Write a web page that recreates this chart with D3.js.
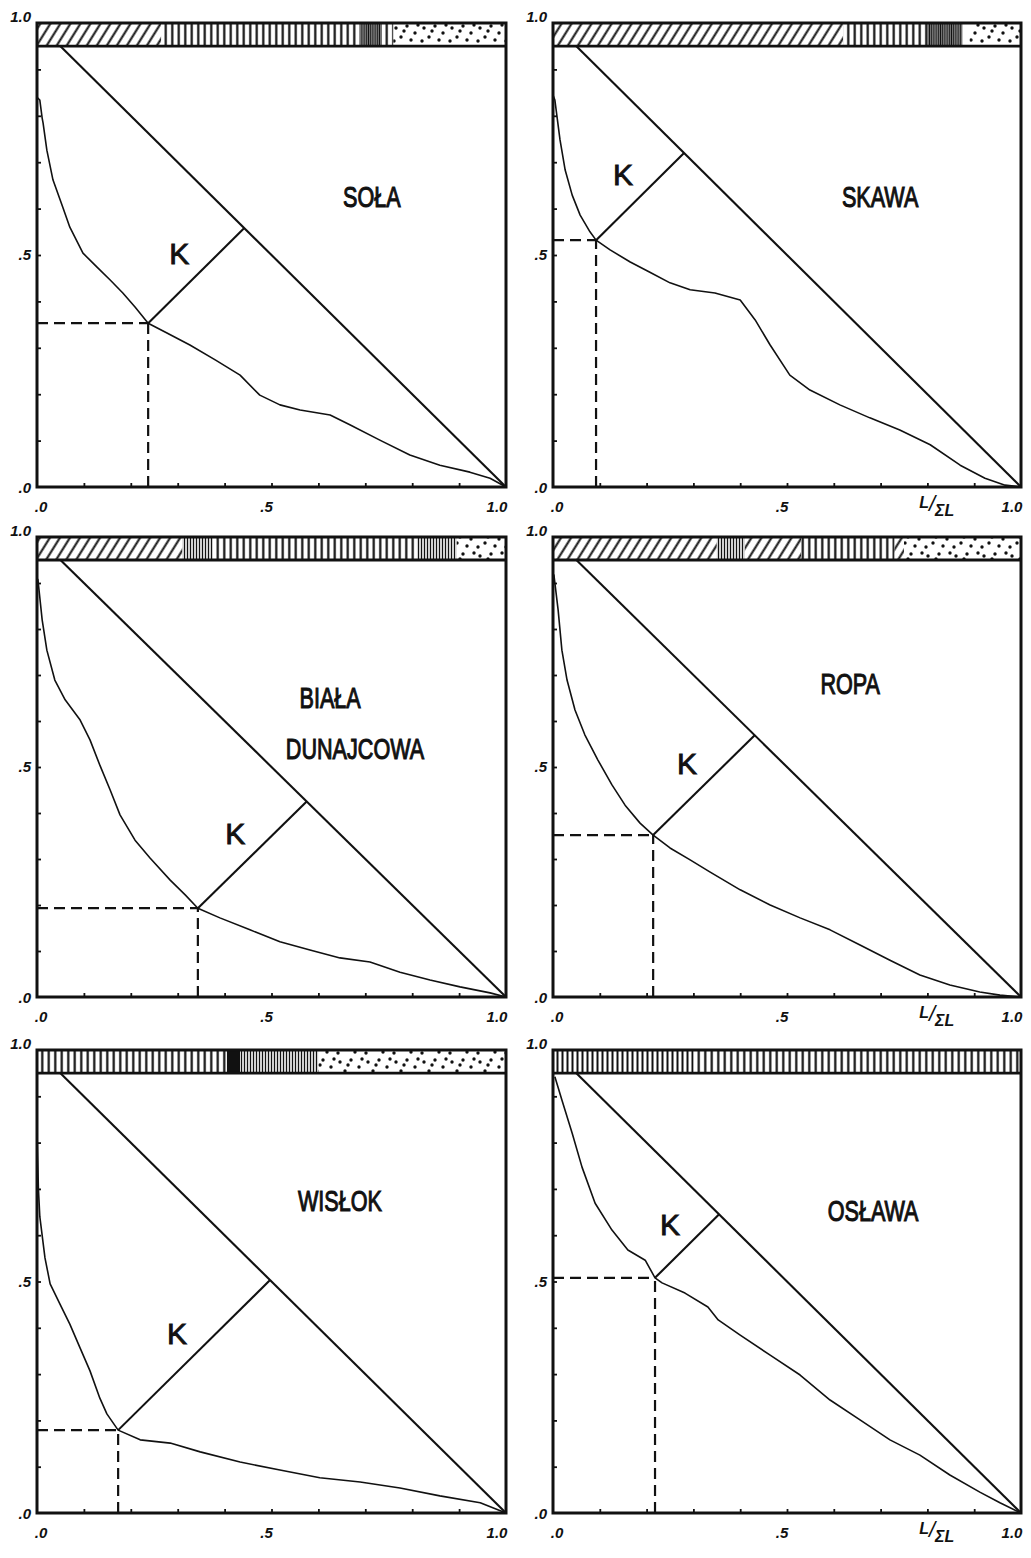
<!DOCTYPE html>
<html>
<head>
<meta charset="utf-8">
<script src="https://cdn.jsdelivr.net/npm/d3@7"></script>
<style>
  body { margin: 0; background: #fff; }
  svg { display: block; }
</style>
</head>
<body>
<svg id="chart" width="1031" height="1558"></svg>
<script>
// ---- Rivers and their cumulative curves (x = L/ΣL, y = share) ----
const rivers = ["SOŁA", "SKAWA", "BIAŁA DUNAJCOWA", "ROPA", "WISŁOK", "OSŁAWA"];
const titleLines = [["SOŁA"], ["SKAWA"], ["BIAŁA", "DUNAJCOWA"], ["ROPA"], ["WISŁOK"], ["OSŁAWA"]];

const curveSola = [[0, 0.84], [0.006, 0.834], [0.011, 0.795], [0.013, 0.784], [0.021, 0.726], [0.034, 0.662],
  [0.055, 0.603], [0.07, 0.56], [0.098, 0.504], [0.128, 0.474], [0.156, 0.446], [0.183, 0.418], [0.209, 0.388],
  [0.237, 0.353], [0.273, 0.334], [0.326, 0.306], [0.38, 0.274], [0.433, 0.241], [0.475, 0.198], [0.518, 0.177],
  [0.561, 0.166], [0.625, 0.155], [0.667, 0.134], [0.731, 0.101], [0.795, 0.069], [0.859, 0.047], [0.923, 0.032],
  [0.966, 0.019], [1, 0]];
const curveSkawa = [[0, 0.845], [0.004, 0.834], [0.015, 0.748], [0.026, 0.683], [0.041, 0.629], [0.058, 0.586],
  [0.079, 0.55], [0.092, 0.532], [0.122, 0.511], [0.165, 0.485], [0.207, 0.463], [0.25, 0.44], [0.293, 0.425],
  [0.346, 0.418], [0.4, 0.403], [0.432, 0.36], [0.464, 0.306], [0.506, 0.241], [0.549, 0.209], [0.613, 0.177],
  [0.677, 0.149], [0.741, 0.123], [0.806, 0.091], [0.87, 0.047], [0.923, 0.019], [0.966, 0.004], [1, 0]];
const curveBiala = [[0, 0.91], [0.002, 0.907], [0.011, 0.82], [0.021, 0.754], [0.038, 0.689], [0.06, 0.646],
  [0.092, 0.602], [0.113, 0.559], [0.134, 0.504], [0.156, 0.45], [0.177, 0.396], [0.209, 0.341], [0.241, 0.302],
  [0.284, 0.254], [0.316, 0.222], [0.343, 0.193], [0.39, 0.172], [0.454, 0.146], [0.518, 0.12], [0.582, 0.102],
  [0.646, 0.085], [0.71, 0.076], [0.774, 0.054], [0.838, 0.037], [0.902, 0.022], [0.966, 0.009], [1, 0]];
const curveRopa = [[0, 0.92], [0.002, 0.917], [0.011, 0.841], [0.019, 0.754], [0.03, 0.689], [0.047, 0.624],
  [0.068, 0.57], [0.096, 0.515], [0.126, 0.461], [0.154, 0.417], [0.186, 0.378], [0.214, 0.352], [0.25, 0.324],
  [0.293, 0.298], [0.335, 0.272], [0.4, 0.233], [0.464, 0.2], [0.528, 0.172], [0.592, 0.146], [0.656, 0.113],
  [0.72, 0.08], [0.784, 0.048], [0.848, 0.026], [0.912, 0.011], [0.955, 0.004], [1, 0]];
const curveWislok = [[0, 0.82], [0.003, 0.7], [0.006, 0.64], [0.017, 0.551], [0.028, 0.495], [0.049, 0.451],
  [0.07, 0.408], [0.092, 0.356], [0.113, 0.307], [0.134, 0.248], [0.149, 0.214], [0.173, 0.179], [0.22, 0.158],
  [0.284, 0.151], [0.348, 0.132], [0.433, 0.11], [0.518, 0.093], [0.603, 0.076], [0.689, 0.067], [0.774, 0.054],
  [0.859, 0.037], [0.945, 0.022], [1, 0]];
const curveOslawa = [[0.004, 0.942], [0.019, 0.892], [0.041, 0.82], [0.062, 0.747], [0.09, 0.669], [0.126, 0.611],
  [0.16, 0.568], [0.197, 0.546], [0.218, 0.508], [0.233, 0.497], [0.282, 0.475], [0.331, 0.445], [0.353, 0.417],
  [0.4, 0.384], [0.464, 0.341], [0.528, 0.298], [0.592, 0.244], [0.656, 0.201], [0.72, 0.158], [0.784, 0.125],
  [0.848, 0.082], [0.912, 0.045], [0.955, 0.022], [1, 0]];
const curves = [curveSola, curveSkawa, curveBiala, curveRopa, curveWislok, curveOslawa];

// Point K on each curve (furthest from the diagonal)
const kPoints = [[0.237, 0.353], [0.092, 0.532], [0.343, 0.193], [0.214, 0.352], [0.173, 0.179], [0.218, 0.508]];

// Composition bands along the channel: [pattern, from, to]
const bandSola = [["hatch", 0, 0.265], ["vert", 0.265, 0.69], ["dark", 0.69, 0.735], ["vert", 0.735, 0.76], ["dots", 0.76, 1]];
const bandSkawa = [["hatch", 0, 0.62], ["vert", 0.62, 0.8], ["dark", 0.8, 0.875], ["none", 0.875, 0.89], ["dots", 0.89, 1]];
const bandBiala = [["hatch", 0, 0.31], ["fine", 0.31, 0.375], ["vert", 0.375, 0.81], ["fine", 0.81, 0.895], ["dots", 0.895, 1]];
const bandRopa = [["hatch", 0, 0.35], ["fine", 0.35, 0.41], ["hatch", 0.41, 0.53], ["vert", 0.53, 0.73], ["hatch", 0.73, 0.75], ["dots", 0.75, 1]];
const bandWislok = [["vert", 0, 0.405], ["solid", 0.405, 0.433], ["fine", 0.433, 0.6], ["dots", 0.6, 1]];
const bandOslawa = [["vertTight", 0, 0.3], ["vert", 0.3, 1]];
const bands = [bandSola, bandSkawa, bandBiala, bandRopa, bandWislok, bandOslawa];

const axisTicks = [0, 0.5, 1];
const axisTickLabels = [".0", ".5", "1.0"];
const minorTicks = [0.1, 0.2, 0.3, 0.4, 0.5, 0.6, 0.7, 0.8, 0.9];
const showRatioLabel = [false, true, false, true, false, true];

// ---- Layout of the six panels ----
const panels = [
  { left: 37, right: 506, top: 23, bottom: 487 },
  { left: 553, right: 1021, top: 23, bottom: 487 },
  { left: 37, right: 506, top: 537, bottom: 997 },
  { left: 553, right: 1021, top: 537, bottom: 997 },
  { left: 37, right: 506, top: 1050, bottom: 1513 },
  { left: 553, right: 1021, top: 1050, bottom: 1513 }
];
const titleAt = [[0.714, 0.627], [0.699, 0.627], [0.625, 0.652], [0.635, 0.683], [0.646, 0.676], [0.684, 0.654]];
const titleLineGap = 0.111;

const ink = "#111";
const svg = d3.select("#chart");
const defs = svg.append("defs");

// Fill patterns for the band
function stripePattern(id, w, sw, rotate) {
  const p = defs.append("pattern").attr("id", id).attr("patternUnits", "userSpaceOnUse")
    .attr("width", w).attr("height", 60);
  if (rotate) p.attr("patternTransform", `rotate(${rotate})`);
  p.append("rect").attr("width", w).attr("height", 60).attr("fill", "#fff");
  p.append("line").attr("x1", w / 2).attr("x2", w / 2).attr("y1", 0).attr("y2", 60)
    .attr("stroke", ink).attr("stroke-width", sw);
}
stripePattern("hatch", 8.5, 2.0, 32);
stripePattern("vert", 6.5, 2.2, 0);
stripePattern("vertTight", 5, 2.0, 0);
stripePattern("fine", 3, 1.4, 0);
stripePattern("dark", 2.2, 1.6, 0);
const dp = defs.append("pattern").attr("id", "dots").attr("patternUnits", "userSpaceOnUse")
  .attr("width", 28).attr("height", 22);
dp.append("rect").attr("width", 28).attr("height", 22).attr("fill", "#fff");
[[4, 6], [15, 4], [23, 11], [9, 15], [19, 18], [2, 19], [12, 9], [26, 3]].forEach(([cx, cy]) =>
  dp.append("circle").attr("cx", cx).attr("cy", cy).attr("r", 1.7).attr("fill", ink));

const fillFor = { hatch: "url(#hatch)", vert: "url(#vert)", vertTight: "url(#vertTight)", fine: "url(#fine)",
  dark: "url(#dark)", dots: "url(#dots)", solid: ink, none: "#fff" };

const labelFont = "'Liberation Sans', 'DejaVu Sans', sans-serif";

panels.forEach((p, i) => {
  const x = d3.scaleLinear().domain([0, 1]).range([p.left, p.right]);
  const y = d3.scaleLinear().domain([0, 1]).range([p.bottom, p.top]);
  const g = svg.append("g").attr("class", "panel");

  // band on top (0.95 .. 1.0)
  g.selectAll("rect.band").data(bands[i]).join("rect").attr("class", "band")
    .attr("x", d => x(d[1])).attr("width", d => x(d[2]) - x(d[1]))
    .attr("y", y(1)).attr("height", y(0.95) - y(1))
    .attr("fill", d => fillFor[d[0]]);

  // minor ticks on both axes, pointing inwards
  g.append("g").attr("transform", `translate(0,${p.bottom})`)
    .call(d3.axisBottom(x).tickValues(minorTicks).tickSize(-4).tickFormat(""))
    .call(a => a.select(".domain").remove())
    .call(a => a.selectAll("line").attr("stroke", ink).attr("stroke-width", 1.8));
  g.append("g").attr("transform", `translate(${p.left},0)`)
    .call(d3.axisLeft(y).tickValues(minorTicks.filter(v => v < 0.95)).tickSize(-4).tickFormat(""))
    .call(a => a.select(".domain").remove())
    .call(a => a.selectAll("line").attr("stroke", ink).attr("stroke-width", 1.8));

  // frame and band outline
  g.append("rect").attr("x", p.left).attr("y", p.top).attr("width", p.right - p.left)
    .attr("height", p.bottom - p.top).attr("fill", "none").attr("stroke", ink).attr("stroke-width", 3);
  g.append("line").attr("x1", p.left).attr("x2", p.right).attr("y1", y(0.95)).attr("y2", y(0.95))
    .attr("stroke", ink).attr("stroke-width", 2.8);

  // diagonal of uniform distribution
  g.append("line").attr("x1", x(0.05)).attr("y1", y(0.95)).attr("x2", x(1)).attr("y2", y(0))
    .attr("stroke", ink).attr("stroke-width", 2.1);

  // cumulative curve
  const line = d3.line().x(d => x(d[0])).y(d => y(d[1]));
  g.append("path").datum(curves[i]).attr("d", line).attr("fill", "none")
    .attr("stroke", ink).attr("stroke-width", 1.6).attr("stroke-linejoin", "round");

  // K: dashed projections and distance to the diagonal
  const [kx, ky] = kPoints[i];
  const foot = (1 - ky + kx) / 2;
  g.append("path").attr("d", `M${x(0)},${y(ky)}H${x(kx)}M${x(kx)},${y(0)}V${y(ky)}`)
    .attr("fill", "none").attr("stroke", ink).attr("stroke-width", 2.2).attr("stroke-dasharray", "11,6");
  g.append("line").attr("x1", x(kx)).attr("y1", y(ky)).attr("x2", x(foot)).attr("y2", y(1 - foot))
    .attr("stroke", ink).attr("stroke-width", 2.1);
  const mx = (x(kx) + x(foot)) / 2, my = (y(ky) + y(1 - foot)) / 2;
  g.append("text").attr("x", mx - 17).attr("y", my - 22).attr("dy", "0.36em")
    .attr("text-anchor", "middle").attr("font-family", labelFont).attr("font-size", 30)
    .attr("fill", ink).attr("stroke", ink).attr("stroke-width", 0.9).text("K");

  // river name
  const [tx, ty] = titleAt[i];
  titleLines[i].forEach((t, j) => {
    const cx = x(j === 0 ? tx : tx + 0.053), cy = y(ty - j * titleLineGap);
    g.append("text").attr("transform", `translate(${cx},${cy}) scale(0.72,1)`)
      .attr("dy", "0.36em").attr("text-anchor", "middle")
      .attr("font-family", labelFont).attr("font-size", 30)
      .attr("fill", ink).attr("stroke", ink).attr("stroke-width", 1.1).text(t);
  });

  // axis numbers
  const numFont = { "font-family": labelFont, "font-size": 15, "font-style": "italic", "font-weight": "bold" };
  const xl = g.append("g");
  axisTicks.forEach((v, j) => {
    const t = xl.append("text").attr("x", x(v) + (j === 0 ? 4 : j === 1 ? -5 : -9)).attr("y", p.bottom + 25)
      .attr("text-anchor", "middle").attr("fill", ink).text(axisTickLabels[j]);
    Object.entries(numFont).forEach(([k, val]) => t.attr(k, val));
  });
  axisTicks.forEach((v, j) => {
    const yy = j === 0 ? p.bottom + 6 : j === 1 ? y(0.5) + 5 : p.top - 1;
    const t = xl.append("text").attr("x", p.left - 6).attr("y", yy)
      .attr("text-anchor", "end").attr("fill", ink).text(axisTickLabels[j]);
    Object.entries(numFont).forEach(([k, val]) => t.attr(k, val));
  });

  if (showRatioLabel[i]) {
    const rx = x(0.82), ry = p.bottom + 26;
    const t = g.append("text").attr("x", rx).attr("y", ry).attr("text-anchor", "middle")
      .attr("font-family", labelFont).attr("font-style", "italic").attr("font-weight", "bold")
      .attr("font-size", 16).attr("fill", ink);
    t.append("tspan").attr("dy", -5).text("L");
    t.append("tspan").attr("dy", 3).attr("font-size", 22).attr("font-weight", "normal").text("/");
    t.append("tspan").attr("dy", 5).text("ΣL");
  }
});
</script>
</body>
</html>
